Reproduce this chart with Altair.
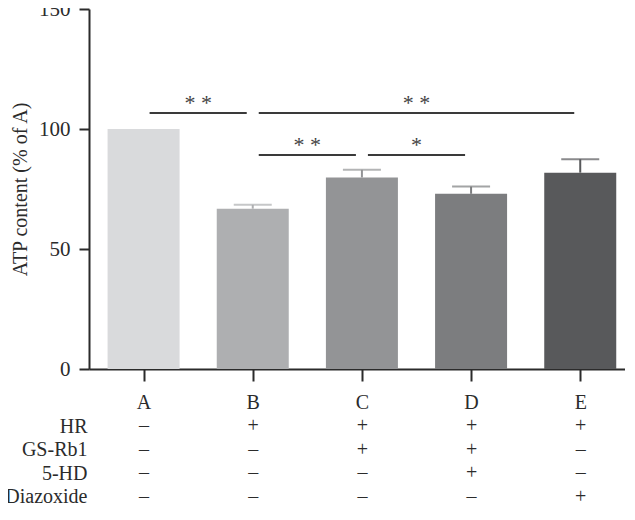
import json
import altair as alt
import pandas as pd

groups = ["A", "B", "C", "D", "E"]
atp = [100.0, 66.8, 79.8, 73.0, 81.8]
err = [0.0, 1.6, 3.2, 3.0, 5.6]
colors = ["#d9dadc", "#aeafb1", "#939496", "#7c7d7f", "#58595b"]

row_names = ["HR", "GS-Rb1", "5-HD", "Diazoxide"]
hr = ["–", "+", "+", "+", "+"]
gs = ["–", "–", "+", "+", "–"]
hd = ["–", "–", "–", "+", "–"]
dz = ["–", "–", "–", "–", "+"]

sig_start = ["A", "B", "B", "C"]
sig_end = ["B", "E", "C", "D"]
sig_level = [106.7, 106.7, 89.2, 89.2]
sig_label = ["* *", "* *", "* *", "*"]

FONT = "Liberation Serif"
INK = "#2b2b2b"
LH = 23.6
LPAD = 11

bars = pd.DataFrame({
    "group": groups,
    "idx": list(range(len(groups))),
    "atp": atp,
    "err": err,
})
bars["top"] = bars["atp"] + bars["err"]

idx_of = {g: i for i, g in enumerate(groups)}
sig = pd.DataFrame({
    "x1": [idx_of[s] for s in sig_start],
    "x2": [idx_of[e] for e in sig_end],
    "level": sig_level,
    "label": sig_label,
})
sig["mid"] = (sig["x1"] + sig["x2"]) / 2

parts = []
for i, g in enumerate(groups):
    lines = [g, hr[i], gs[i], hd[i], dz[i]]
    parts.append(f"datum.value == {i} ? {json.dumps(lines, ensure_ascii=False)}")
label_expr = " : ".join(parts) + " : ''"

xscale = alt.Scale(domain=[-0.5, len(groups) - 0.59], nice=False, zero=False, padding=0)
yscale = alt.Scale(domain=[0, 150], nice=False, padding=0)
cscale = alt.Scale(domain=groups, range=colors)

xaxis = alt.Axis(
    values=list(range(len(groups))), labelExpr=label_expr, grid=False,
    domainColor=INK, domainWidth=2, tickColor=INK, tickWidth=2, tickSize=12,
    labelFont=FONT, labelFontSize=20, labelColor=INK, labelLineHeight=LH,
    labelBaseline="top", labelPadding=LPAD, labelAngle=0,
    title=row_names, titleFont=FONT, titleFontSize=20, titleFontWeight="normal",
    titleColor=INK, titleLineHeight=LH, titleAlign="right", titleBaseline="top",
    titleX=-2, titleY=12 + LPAD + LH + 0.5, titleAnchor="start",
)
yaxis = alt.Axis(
    values=[0, 50, 100, 150], grid=False,
    domainColor=INK, domainWidth=2, tickColor=INK, tickWidth=2, tickSize=10,
    labelFont=FONT, labelFontSize=21, labelColor=INK, labelPadding=9,
    title="ATP content (% of A)", titleFont=FONT, titleFontSize=20,
    titleFontWeight="normal", titleColor=INK, titlePadding=8,
)

base = alt.Chart(bars)

bar = base.mark_bar(size=72).encode(
    x=alt.X("idx:Q", scale=xscale, axis=xaxis),
    y=alt.Y("atp:Q", scale=yscale, axis=yaxis),
    color=alt.Color("group:N", scale=cscale, legend=None),
)

ebar = base.transform_filter("datum.err > 0").mark_rule(strokeWidth=2).encode(
    x="idx:Q", y="atp:Q", y2="top:Q",
    color=alt.Color("group:N", scale=cscale, legend=None),
)
ecap = base.transform_filter("datum.err > 0").mark_tick(
    size=38, thickness=2, orient="horizontal").encode(
    x="idx:Q", y="top:Q",
    color=alt.Color("group:N", scale=cscale, legend=None),
)

sig_base = alt.Chart(sig)
sig_rule = sig_base.mark_rule(strokeWidth=2, color="#3a3a3a", xOffset=6, x2Offset=-6).encode(
    x="x1:Q", x2="x2:Q", y="level:Q",
)
sig_text = sig_base.mark_text(font=FONT, fontSize=22, color="#444444",
                              baseline="alphabetic", dy=-3).encode(
    x="mid:Q", y="level:Q", text="label:N",
)

chart = (
    alt.layer(bar, ebar, ecap, sig_rule, sig_text)
    .properties(
        width=536, height=360,
        padding={"left": 81, "top": 1, "right": 0, "bottom": 141},
        autosize=alt.AutoSizeParams(type="none"),
    )
    .configure_view(stroke=None)
)

chart.save("out.html", embed_options={"renderer": "svg", "actions": False})
